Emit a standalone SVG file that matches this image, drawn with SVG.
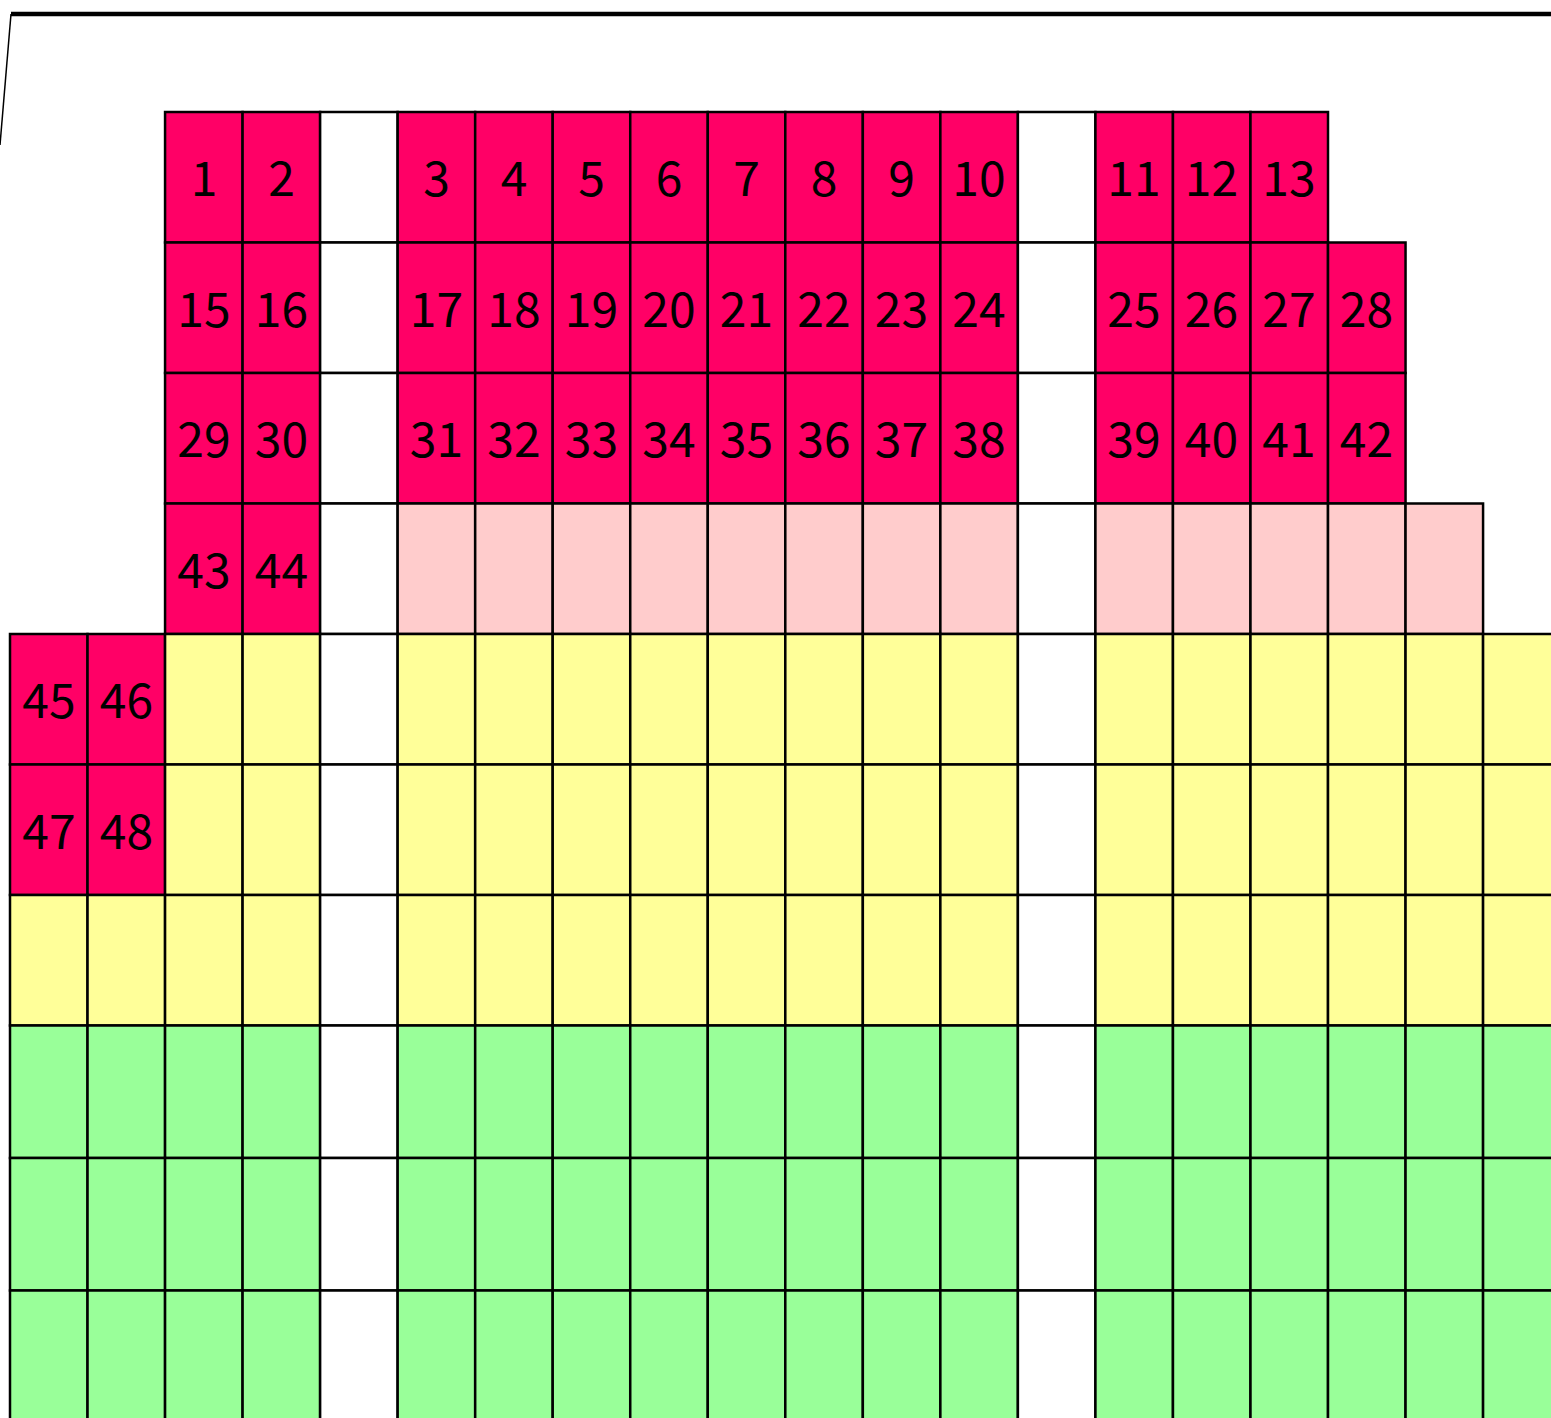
<svg xmlns="http://www.w3.org/2000/svg" xmlns:xlink="http://www.w3.org/1999/xlink" width="1551" height="1418" viewBox="0 0 1551 1418">
<style>
use{stroke:#000;stroke-width:2.5}
.p{fill:#FF0066}.l{fill:#FFCCCC}.y{fill:#FFFF99}.g{fill:#99FF99}.w{fill:#FFFFFF}
text{font-family:"Noto Sans CJK JP","Liberation Sans",sans-serif;font-size:48px;fill:#000;text-anchor:middle}
</style>
<defs>
<rect id="s" width="77.53" height="130.5"/>
<rect id="t" width="77.53" height="132.5"/>
</defs>
<rect x="0" y="0" width="1551" height="1418" fill="#fff"/>
<g id="walls" fill="none" stroke="#000">
<line x1="11" y1="14" x2="1551" y2="14" stroke-width="4.5"/>
<line x1="11" y1="14" x2="0" y2="145" stroke-width="1.5"/>
</g>
<g id="row1">
<use href="#s" x="165.06" y="112" class="p"/><use href="#s" x="242.59" y="112" class="p"/><use href="#s" x="320.12" y="112" class="w"/>
<use href="#s" x="397.65" y="112" class="p"/><use href="#s" x="475.18" y="112" class="p"/><use href="#s" x="552.71" y="112" class="p"/><use href="#s" x="630.24" y="112" class="p"/><use href="#s" x="707.77" y="112" class="p"/><use href="#s" x="785.3" y="112" class="p"/><use href="#s" x="862.83" y="112" class="p"/><use href="#s" x="940.36" y="112" class="p"/>
<use href="#s" x="1017.89" y="112" class="w"/>
<use href="#s" x="1095.42" y="112" class="p"/><use href="#s" x="1172.95" y="112" class="p"/><use href="#s" x="1250.48" y="112" class="p"/>
<text x="204" y="196">1</text><text x="281.5" y="196">2</text>
<text x="436.5" y="196">3</text><text x="514" y="196">4</text><text x="591.5" y="196">5</text><text x="669" y="196">6</text><text x="746.5" y="196">7</text><text x="824" y="196">8</text><text x="901.5" y="196">9</text><text x="979" y="196">10</text>
<text x="1134" y="196">11</text><text x="1211.5" y="196">12</text><text x="1289" y="196">13</text>
</g>
<g id="row2">
<use href="#s" x="165.06" y="242.5" class="p"/><use href="#s" x="242.59" y="242.5" class="p"/><use href="#s" x="320.12" y="242.5" class="w"/>
<use href="#s" x="397.65" y="242.5" class="p"/><use href="#s" x="475.18" y="242.5" class="p"/><use href="#s" x="552.71" y="242.5" class="p"/><use href="#s" x="630.24" y="242.5" class="p"/><use href="#s" x="707.77" y="242.5" class="p"/><use href="#s" x="785.3" y="242.5" class="p"/><use href="#s" x="862.83" y="242.5" class="p"/><use href="#s" x="940.36" y="242.5" class="p"/>
<use href="#s" x="1017.89" y="242.5" class="w"/>
<use href="#s" x="1095.42" y="242.5" class="p"/><use href="#s" x="1172.95" y="242.5" class="p"/><use href="#s" x="1250.48" y="242.5" class="p"/><use href="#s" x="1328.01" y="242.5" class="p"/>
<text x="204" y="326.5">15</text><text x="281.5" y="326.5">16</text>
<text x="436.5" y="326.5">17</text><text x="514" y="326.5">18</text><text x="591.5" y="326.5">19</text><text x="669" y="326.5">20</text><text x="746.5" y="326.5">21</text><text x="824" y="326.5">22</text><text x="901.5" y="326.5">23</text><text x="979" y="326.5">24</text>
<text x="1134" y="326.5">25</text><text x="1211.5" y="326.5">26</text><text x="1289" y="326.5">27</text><text x="1366.5" y="326.5">28</text>
</g>
<g id="row3">
<use href="#s" x="165.06" y="373" class="p"/><use href="#s" x="242.59" y="373" class="p"/><use href="#s" x="320.12" y="373" class="w"/>
<use href="#s" x="397.65" y="373" class="p"/><use href="#s" x="475.18" y="373" class="p"/><use href="#s" x="552.71" y="373" class="p"/><use href="#s" x="630.24" y="373" class="p"/><use href="#s" x="707.77" y="373" class="p"/><use href="#s" x="785.3" y="373" class="p"/><use href="#s" x="862.83" y="373" class="p"/><use href="#s" x="940.36" y="373" class="p"/>
<use href="#s" x="1017.89" y="373" class="w"/>
<use href="#s" x="1095.42" y="373" class="p"/><use href="#s" x="1172.95" y="373" class="p"/><use href="#s" x="1250.48" y="373" class="p"/><use href="#s" x="1328.01" y="373" class="p"/>
<text x="204" y="457">29</text><text x="281.5" y="457">30</text>
<text x="436.5" y="457">31</text><text x="514" y="457">32</text><text x="591.5" y="457">33</text><text x="669" y="457">34</text><text x="746.5" y="457">35</text><text x="824" y="457">36</text><text x="901.5" y="457">37</text><text x="979" y="457">38</text>
<text x="1134" y="457">39</text><text x="1211.5" y="457">40</text><text x="1289" y="457">41</text><text x="1366.5" y="457">42</text>
</g>
<g id="row4">
<use href="#s" x="165.06" y="503.5" class="p"/><use href="#s" x="242.59" y="503.5" class="p"/><use href="#s" x="320.12" y="503.5" class="w"/>
<use href="#s" x="397.65" y="503.5" class="l"/><use href="#s" x="475.18" y="503.5" class="l"/><use href="#s" x="552.71" y="503.5" class="l"/><use href="#s" x="630.24" y="503.5" class="l"/><use href="#s" x="707.77" y="503.5" class="l"/><use href="#s" x="785.3" y="503.5" class="l"/><use href="#s" x="862.83" y="503.5" class="l"/><use href="#s" x="940.36" y="503.5" class="l"/>
<use href="#s" x="1017.89" y="503.5" class="w"/>
<use href="#s" x="1095.42" y="503.5" class="l"/><use href="#s" x="1172.95" y="503.5" class="l"/><use href="#s" x="1250.48" y="503.5" class="l"/><use href="#s" x="1328.01" y="503.5" class="l"/><use href="#s" x="1405.54" y="503.5" class="l"/>
<text x="204" y="587.5">43</text><text x="281.5" y="587.5">44</text>
</g>
<g id="row5">
<use href="#s" x="10" y="634" class="p"/><use href="#s" x="87.53" y="634" class="p"/>
<use href="#s" x="165.06" y="634" class="y"/><use href="#s" x="242.59" y="634" class="y"/><use href="#s" x="320.12" y="634" class="w"/>
<use href="#s" x="397.65" y="634" class="y"/><use href="#s" x="475.18" y="634" class="y"/><use href="#s" x="552.71" y="634" class="y"/><use href="#s" x="630.24" y="634" class="y"/><use href="#s" x="707.77" y="634" class="y"/><use href="#s" x="785.3" y="634" class="y"/><use href="#s" x="862.83" y="634" class="y"/><use href="#s" x="940.36" y="634" class="y"/>
<use href="#s" x="1017.89" y="634" class="w"/>
<use href="#s" x="1095.42" y="634" class="y"/><use href="#s" x="1172.95" y="634" class="y"/><use href="#s" x="1250.48" y="634" class="y"/><use href="#s" x="1328.01" y="634" class="y"/><use href="#s" x="1405.54" y="634" class="y"/><use href="#s" x="1483.07" y="634" class="y"/>
<text x="49" y="718">45</text><text x="126.5" y="718">46</text>
</g>
<g id="row6">
<use href="#s" x="10" y="764.5" class="p"/><use href="#s" x="87.53" y="764.5" class="p"/>
<use href="#s" x="165.06" y="764.5" class="y"/><use href="#s" x="242.59" y="764.5" class="y"/><use href="#s" x="320.12" y="764.5" class="w"/>
<use href="#s" x="397.65" y="764.5" class="y"/><use href="#s" x="475.18" y="764.5" class="y"/><use href="#s" x="552.71" y="764.5" class="y"/><use href="#s" x="630.24" y="764.5" class="y"/><use href="#s" x="707.77" y="764.5" class="y"/><use href="#s" x="785.3" y="764.5" class="y"/><use href="#s" x="862.83" y="764.5" class="y"/><use href="#s" x="940.36" y="764.5" class="y"/>
<use href="#s" x="1017.89" y="764.5" class="w"/>
<use href="#s" x="1095.42" y="764.5" class="y"/><use href="#s" x="1172.95" y="764.5" class="y"/><use href="#s" x="1250.48" y="764.5" class="y"/><use href="#s" x="1328.01" y="764.5" class="y"/><use href="#s" x="1405.54" y="764.5" class="y"/><use href="#s" x="1483.07" y="764.5" class="y"/>
<text x="49" y="848.5">47</text><text x="126.5" y="848.5">48</text>
</g>
<g id="row7">
<use href="#s" x="10" y="895" class="y"/><use href="#s" x="87.53" y="895" class="y"/>
<use href="#s" x="165.06" y="895" class="y"/><use href="#s" x="242.59" y="895" class="y"/><use href="#s" x="320.12" y="895" class="w"/>
<use href="#s" x="397.65" y="895" class="y"/><use href="#s" x="475.18" y="895" class="y"/><use href="#s" x="552.71" y="895" class="y"/><use href="#s" x="630.24" y="895" class="y"/><use href="#s" x="707.77" y="895" class="y"/><use href="#s" x="785.3" y="895" class="y"/><use href="#s" x="862.83" y="895" class="y"/><use href="#s" x="940.36" y="895" class="y"/>
<use href="#s" x="1017.89" y="895" class="w"/>
<use href="#s" x="1095.42" y="895" class="y"/><use href="#s" x="1172.95" y="895" class="y"/><use href="#s" x="1250.48" y="895" class="y"/><use href="#s" x="1328.01" y="895" class="y"/><use href="#s" x="1405.54" y="895" class="y"/><use href="#s" x="1483.07" y="895" class="y"/>
</g>
<g id="row8">
<use href="#t" x="10" y="1025.5" class="g"/><use href="#t" x="87.53" y="1025.5" class="g"/>
<use href="#t" x="165.06" y="1025.5" class="g"/><use href="#t" x="242.59" y="1025.5" class="g"/><use href="#t" x="320.12" y="1025.5" class="w"/>
<use href="#t" x="397.65" y="1025.5" class="g"/><use href="#t" x="475.18" y="1025.5" class="g"/><use href="#t" x="552.71" y="1025.5" class="g"/><use href="#t" x="630.24" y="1025.5" class="g"/><use href="#t" x="707.77" y="1025.5" class="g"/><use href="#t" x="785.3" y="1025.5" class="g"/><use href="#t" x="862.83" y="1025.5" class="g"/><use href="#t" x="940.36" y="1025.5" class="g"/>
<use href="#t" x="1017.89" y="1025.5" class="w"/>
<use href="#t" x="1095.42" y="1025.5" class="g"/><use href="#t" x="1172.95" y="1025.5" class="g"/><use href="#t" x="1250.48" y="1025.5" class="g"/><use href="#t" x="1328.01" y="1025.5" class="g"/><use href="#t" x="1405.54" y="1025.5" class="g"/><use href="#t" x="1483.07" y="1025.5" class="g"/>
</g>
<g id="row9">
<use href="#t" x="10" y="1158" class="g"/><use href="#t" x="87.53" y="1158" class="g"/>
<use href="#t" x="165.06" y="1158" class="g"/><use href="#t" x="242.59" y="1158" class="g"/><use href="#t" x="320.12" y="1158" class="w"/>
<use href="#t" x="397.65" y="1158" class="g"/><use href="#t" x="475.18" y="1158" class="g"/><use href="#t" x="552.71" y="1158" class="g"/><use href="#t" x="630.24" y="1158" class="g"/><use href="#t" x="707.77" y="1158" class="g"/><use href="#t" x="785.3" y="1158" class="g"/><use href="#t" x="862.83" y="1158" class="g"/><use href="#t" x="940.36" y="1158" class="g"/>
<use href="#t" x="1017.89" y="1158" class="w"/>
<use href="#t" x="1095.42" y="1158" class="g"/><use href="#t" x="1172.95" y="1158" class="g"/><use href="#t" x="1250.48" y="1158" class="g"/><use href="#t" x="1328.01" y="1158" class="g"/><use href="#t" x="1405.54" y="1158" class="g"/><use href="#t" x="1483.07" y="1158" class="g"/>
</g>
<g id="row10">
<use href="#t" x="10" y="1290.5" class="g"/><use href="#t" x="87.53" y="1290.5" class="g"/>
<use href="#t" x="165.06" y="1290.5" class="g"/><use href="#t" x="242.59" y="1290.5" class="g"/><use href="#t" x="320.12" y="1290.5" class="w"/>
<use href="#t" x="397.65" y="1290.5" class="g"/><use href="#t" x="475.18" y="1290.5" class="g"/><use href="#t" x="552.71" y="1290.5" class="g"/><use href="#t" x="630.24" y="1290.5" class="g"/><use href="#t" x="707.77" y="1290.5" class="g"/><use href="#t" x="785.3" y="1290.5" class="g"/><use href="#t" x="862.83" y="1290.5" class="g"/><use href="#t" x="940.36" y="1290.5" class="g"/>
<use href="#t" x="1017.89" y="1290.5" class="w"/>
<use href="#t" x="1095.42" y="1290.5" class="g"/><use href="#t" x="1172.95" y="1290.5" class="g"/><use href="#t" x="1250.48" y="1290.5" class="g"/><use href="#t" x="1328.01" y="1290.5" class="g"/><use href="#t" x="1405.54" y="1290.5" class="g"/><use href="#t" x="1483.07" y="1290.5" class="g"/>
</g>
</svg>
